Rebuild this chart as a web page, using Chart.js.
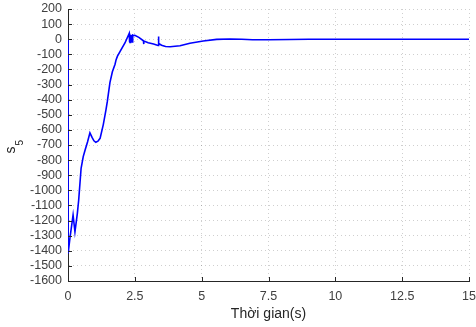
<!DOCTYPE html>
<html>
<head>
<meta charset="utf-8">
<script src="https://cdn.jsdelivr.net/npm/chart.js@4/dist/chart.umd.min.js"></script>
<style>
  html, body { margin: 0; padding: 0; background: #fff; }
  #wrap { width: 476px; height: 327px; }
</style>
</head>
<body>
<div id="wrap"><canvas id="c" width="476" height="327"></canvas></div>
<script>
// ---- data ----
const timeS = [0, 0.005, 0.07, 0.19, 0.26, 0.35, 0.4, 0.49, 0.57, 0.64, 0.73, 0.82, 0.9, 0.97, 1.04, 1.12, 1.2, 1.32, 1.42, 1.47, 1.57, 1.66, 1.76, 1.80, 1.85, 1.95, 2.13, 2.29,
  2.30, 2.31, 2.32, 2.33, 2.35, 2.36, 2.38, 2.39, 2.41, 2.42, 2.44, 2.5, 2.65, 2.82, 2.83, 2.84, 3.0, 3.2, 3.37, 3.38, 3.40, 3.5, 3.65, 3.82, 4.19, 4.56, 5.06, 5.56, 6.06, 6.5, 6.9, 7.5, 8.3, 9, 10, 11, 12, 13, 14, 15];
const s5Values = [0, -1417, -1320, -1163, -1274, -1152, -1064, -854, -777, -733, -680, -620, -650, -672, -682, -675, -656, -565, -468, -413, -285, -215, -165, -135, -112, -80, -25, 38,
  -20, 30, -22, 30, -20, 28, -22, 28, -18, 27, 25, 26, 12, -10, -32, -12, -23, -32, -42, 18, -28, -40, -48, -50, -43, -27, -12, -1, 1, 0, -3, -3, -2, 0, 0, 0, 0, 0, 0, 0];
const xTickStep = 2.5;
const yTickStep = 100;
const xRange = [0, 15];
const yRange = [-1600, 200];
const xLabel = 'Thời gian(s)';
const yLabelMain = 's';
const yLabelSub = '5';

const points = timeS.map((t, i) => ({ x: t, y: s5Values[i] }));

Chart.defaults.font.family = '"Liberation Sans", Arial, sans-serif';

const axisColor = '#262626';
const gridColor = 'rgba(38,38,38,0.22)';

const innerTicks = {
  id: 'innerTicks',
  afterDraw(chart) {
    const ctx = chart.ctx;
    const xs = chart.scales.x, ys = chart.scales.y;
    const a = chart.chartArea;
    ctx.save();
    ctx.strokeStyle = axisColor;
    ctx.lineWidth = 1;
    ctx.beginPath();
    xs.ticks.forEach(t => {
      const px = Math.round(xs.getPixelForValue(t.value)) + 0.5;
      ctx.moveTo(px, a.bottom);
      ctx.lineTo(px, a.bottom - 4);
    });
    ys.ticks.forEach(t => {
      const py = Math.round(ys.getPixelForValue(t.value)) + 0.5;
      ctx.moveTo(a.left, py);
      ctx.lineTo(a.left + 4, py);
    });
    ctx.stroke();
    // y axis title with subscript
    ctx.fillStyle = '#262626';
    ctx.translate(15, (a.top + a.bottom) / 2 + 5);
    ctx.rotate(-Math.PI / 2);
    ctx.textBaseline = 'alphabetic';
    ctx.textAlign = 'center';
    ctx.font = '14px "Liberation Sans", Arial, sans-serif';
    ctx.fillText(yLabelMain, 0, 0);
    ctx.textAlign = 'left';
    ctx.font = '10px "Liberation Sans", Arial, sans-serif';
    ctx.fillText(yLabelSub, 4.5, 7.5);
    ctx.restore();
  }
};

new Chart(document.getElementById('c'), {
  type: 'line',
  data: {
    datasets: [{
      data: points,
      borderColor: '#0000ff',
      borderWidth: 1.6,
      pointRadius: 0,
      tension: 0,
      fill: false
    }]
  },
  options: {
    responsive: false,
    animation: false,
    events: [],
    layout: { padding: { top: 9, right: 7, left: 0, bottom: 0 } },
    plugins: { legend: { display: false }, tooltip: { enabled: false } },
    scales: {
      x: {
        type: 'linear',
        min: xRange[0], max: xRange[1],
        afterFit(s) { s.height = 46; s.paddingLeft = 0; s.paddingRight = 0; },
        ticks: {
          stepSize: xTickStep,
          color: '#404040',
          font: { size: 12.5 },
          padding: 8,
          maxRotation: 0,
          callback: v => String(v)
        },
        grid: { color: gridColor, drawTicks: false, lineWidth: 1 },
        border: { display: true, color: axisColor, width: 1, dash: [1, 3] },
        title: {
          display: true, text: xLabel, color: '#262626',
          font: { size: 14 }, padding: { top: 0, bottom: 4 }
        }
      },
      y: {
        type: 'linear',
        min: yRange[0], max: yRange[1],
        afterFit(s) { s.width = 68; s.paddingTop = 0; s.paddingBottom = 0; },
        ticks: {
          stepSize: yTickStep,
          color: '#404040',
          font: { size: 12.5 },
          padding: 6,
          autoSkip: false,
          callback: v => String(v)
        },
        grid: { color: gridColor, drawTicks: false, lineWidth: 1 },
        border: { display: true, color: axisColor, width: 1, dash: [1, 3] }
      }
    }
  },
  plugins: [innerTicks]
});
</script>
</body>
</html>
